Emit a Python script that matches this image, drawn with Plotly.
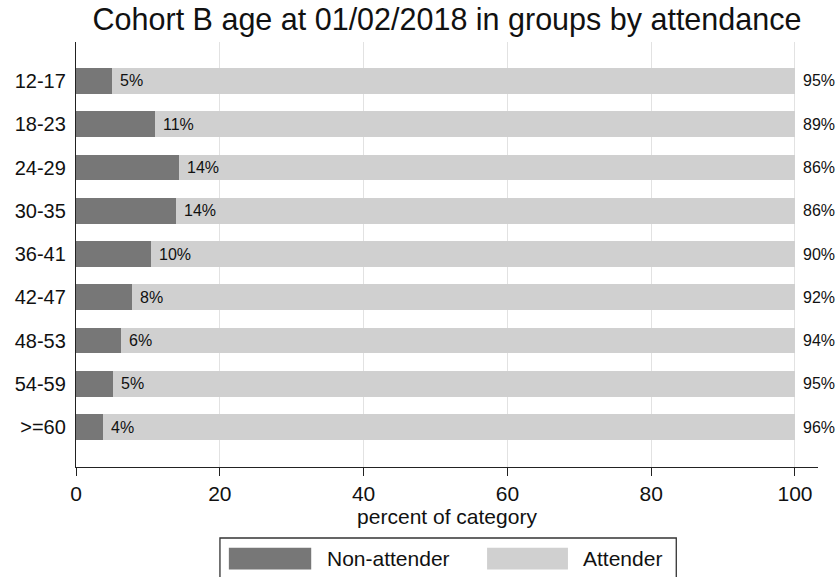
import plotly.graph_objects as go

categories = ["12-17", "18-23", "24-29", "30-35", "36-41", "42-47", "48-53", "54-59", ">=60"]
non_attender = [5.0, 11.0, 14.3, 13.9, 10.5, 7.8, 6.3, 5.2, 3.7]
attender = [95.0, 89.0, 85.7, 86.1, 89.5, 92.2, 93.7, 94.8, 96.3]
non_labels = ["5%", "11%", "14%", "14%", "10%", "8%", "6%", "5%", "4%"]
att_labels = ["95%", "89%", "86%", "86%", "90%", "92%", "94%", "95%", "96%"]
x_ticks = [0, 20, 40, 60, 80, 100]

DARK = "#777777"
LIGHT = "#d0d0d0"
FONT = "Liberation Sans, Arial, sans-serif"

fig = go.Figure()
fig.add_trace(go.Bar(y=categories, x=non_attender, orientation="h", name="Non-attender",
                     marker=dict(color=DARK, line=dict(width=0)), width=0.594))
fig.add_trace(go.Bar(y=categories, x=attender, orientation="h", name="Attender",
                     marker=dict(color=LIGHT, line=dict(width=0)), width=0.594))

for cat, v, lab in zip(categories, non_attender, non_labels):
    fig.add_annotation(x=v, y=cat, xref="x", yref="y", text=lab, showarrow=False,
                       xanchor="left", yanchor="middle", xshift=6,
                       font=dict(size=16, family=FONT, color="#111111"))
for cat, a, n, lab in zip(categories, attender, non_attender, att_labels):
    fig.add_annotation(x=a + n, y=cat, xref="x", yref="y", text=lab, showarrow=False,
                       xanchor="left", yanchor="middle", xshift=6,
                       font=dict(size=16, family=FONT, color="#111111"))

fig.update_layout(
    barmode="stack",
    width=840, height=577,
    margin=dict(l=76, r=22, t=42, b=110, autoexpand=False),
    paper_bgcolor="white", plot_bgcolor="white",
    font=dict(family=FONT, color="#111111"),
    showlegend=False,
    title=dict(text="Cohort B age at 01/02/2018 in groups by attendance",
               x=0.5, xref="paper", xanchor="center", y=0.966, yref="container", yanchor="middle",
               font=dict(size=30.5, family=FONT, color="#111111")),
    xaxis=dict(range=[0, 103.2], tickvals=x_ticks, ticks="outside", ticklen=8, tickcolor="#222222",
               showline=True, linecolor="#222222", linewidth=1.3, showgrid=True, gridcolor="#e2e2e2",
               gridwidth=1, zeroline=False, automargin=False,
               tickfont=dict(size=21, family=FONT, color="#111111"),
               title=dict(text="percent of category", standoff=0, font=dict(size=21, family=FONT, color="#111111"))),
    yaxis=dict(categoryorder="array", categoryarray=categories, range=[8.92, -0.9], automargin=False,
               showline=True, linecolor="#222222", linewidth=1.3, showgrid=False, ticks="",
               ticklabelstandoff=5, tickfont=dict(size=20, family=FONT, color="#111111")),
)

# Legend drawn as a Stata-style box with wide swatches
fig.add_shape(type="rect", xref="paper", yref="paper", x0=0.194, x1=0.809, y0=-0.27, y1=-0.167,
              line=dict(color="#333333", width=1.3), fillcolor="white")
fig.add_shape(type="rect", xref="paper", yref="paper", x0=0.206, x1=0.317, y0=-0.241, y1=-0.190,
              line=dict(width=0), fillcolor=DARK)
fig.add_shape(type="rect", xref="paper", yref="paper", x0=0.554, x1=0.663, y0=-0.241, y1=-0.190,
              line=dict(width=0), fillcolor=LIGHT)
fig.add_annotation(xref="paper", yref="paper", x=0.335, y=-0.215, text="Non-attender", showarrow=False,
                   xanchor="left", yanchor="middle", font=dict(size=21, family=FONT, color="#111111"))
fig.add_annotation(xref="paper", yref="paper", x=0.680, y=-0.215, text="Attender", showarrow=False,
                   xanchor="left", yanchor="middle", font=dict(size=21, family=FONT, color="#111111"))

fig.write_html("out.html", config={"displayModeBar": False},
               post_script="document.body.style.margin='0px';document.body.style.overflow='hidden';")
